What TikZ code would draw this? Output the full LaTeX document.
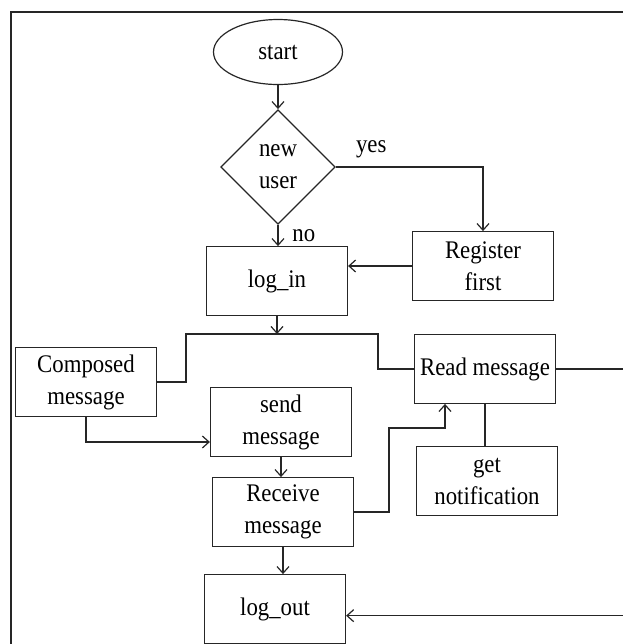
\documentclass[tikz,border=0pt]{standalone}
\usepackage{fontspec}
\setmainfont{Liberation Serif}[FakeStretch=0.9]
\usetikzlibrary{shapes.geometric, arrows.meta}

\begin{document}
\begin{tikzpicture}[x=0.75pt, y=-0.75pt, >={Straight Barb[length=5pt,width=9pt]},
    line width=0.9pt, draw=black!85,
    every node/.style={font=\fontsize{19}{24}\selectfont, align=center},
    box/.style={draw, rectangle, minimum width=105.75pt, minimum height=51.5pt, inner sep=1pt}]

    \useasboundingbox (0,0) rectangle (623,644);

    % Frame round the chart
    \draw (11,650) -- (11,12) -- (630,12);

    % Start and the question
    \node[draw, ellipse, minimum width=96.75pt, minimum height=48.75pt] (start) at (278,52) {start};
    \node[draw, diamond, aspect=1, inner sep=0pt, minimum size=86pt] (user) at (278,167) {new\\user};

    % Boxes of the upper part
    \node[box] (login) at (277,281) {log\_in};
    \node[box] (register) at (483,266) {Register\\first};

    % Boxes of the lower part
    \node[box] (compose) at (86,382) {Composed\\message};
    \node[box] (read) at (485,369) {Read message};
    \node[box] (send) at (281,422) {send\\message};
    \node[box] (receive) at (283,512) {Receive\\message};
    \node[box] (notify) at (487,481) {get\\notification};
    \node[box] (logout) at (275,609) {log\_out};

    % Points where the lines turn
    \coordinate (splitL) at (186,334);
    \coordinate (splitR) at (378,334);
    \coordinate (bend) at (389,428);
    \coordinate (edge) at (640,369);

    % Upper connectors
    \draw[->] (start) -- (user);
    \draw[->] (user.east) -| node[pos=0.12, above=3pt] {yes} (register.north);
    \draw[->] (user.south) -- node[right=7pt] {no} (user.south |- login.north);
    \draw[->] (register.west) -- (register.west -| login.east);

    % Split under log_in
    \draw[->] (login.south) -- (login.south |- splitL);
    \draw (compose.east) -| (splitL) -- (splitR) |- (read.west);

    % Lower connectors
    \draw[->] (compose.south) |- ([yshift=-15pt]send.west);
    \draw[->] (send.south) -- (send.south |- receive.north);
    \draw[->] (receive.east) -| (bend) -| ([xshift=-30pt]read.south);
    \draw (read.south) -- (read.south |- notify.north);
    \draw[->] (receive.south) -- (receive.south |- logout.north);
    \draw[->] (read.east) -- (edge) |- ([yshift=-5pt]logout.east);

\end{tikzpicture}
\end{document}
